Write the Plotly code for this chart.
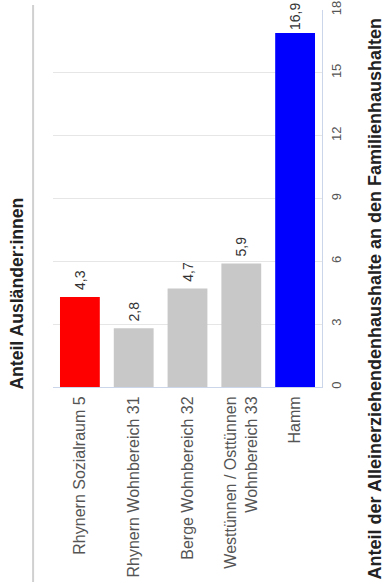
import plotly.graph_objects as go

categories = ["Rhynern Sozialraum 5", "Rhynern Wohnbereich 31", "Berge Wohnbereich 32",
              "Westtünnen / Osttünnen<br>Wohnbereich 33", "Hamm"]
values = [4.3, 2.8, 4.7, 5.9, 16.9]
bar_colors = ["#ff0000", "#c8c8c8", "#c8c8c8", "#c8c8c8", "#0000ff"]
tick_vals = [0, 3, 6, 9, 12, 15, 18]
title_left = "Anteil Ausländer:innen"
title_right = "Anteil der Alleinerziehendenhaushalte an den Familienhaushalten"

FONT = "Liberation Sans, Arial, sans-serif"

fig = go.Figure(go.Bar(
    x=categories, y=values,
    marker=dict(color=bar_colors, line=dict(width=0)),
    texttemplate=["\u00a0%{y:.1f}"] * 4 + ["%{y:.1f}"],
    textposition="outside", textangle=-90,
    textfont=dict(family=FONT, size=14, color="#333333"),
    cliponaxis=False, width=0.74,
))

fig.update_layout(
    width=387, height=583,
    margin=dict(l=53, r=65, t=10, b=196, autoexpand=False),
    paper_bgcolor="white", plot_bgcolor="white",
    separators=",.",
    showlegend=False,
    font=dict(family=FONT, size=16, color="#555555"),
    xaxis=dict(
        tickangle=-90, showgrid=False, showline=True, linecolor="#ccd6eb", linewidth=1,
        ticks="", automargin=False, ticklabelstandoff=2,
        tickfont=dict(family=FONT, size=16, color="#555555"),
    ),
    yaxis=dict(
        side="right", range=[0, 18], tickvals=tick_vals, tickangle=-90,
        showgrid=True, gridcolor="#e6e6e6", showline=True, linecolor="#ccd6eb",
        zeroline=False, ticks="", ticklabelstandoff=2, automargin=False,
        tickfont=dict(family=FONT, size=13, color="#555555"),
    ),
    shapes=[dict(type="line", xref="paper", yref="paper",
                 x0=-0.074, x1=-0.074, y0=-0.517, y1=1.013,
                 line=dict(color="#d0d0d0", width=2))],
    annotations=[
        dict(text="<b>" + title_left + "</b>", textangle=-90, xref="paper", yref="paper",
             x=-0.132, y=0.249, xanchor="center", yanchor="middle", showarrow=False,
             font=dict(family=FONT, size=17.6, color="#222222")),
        dict(text="<b>" + title_right + "</b>", textangle=-90, xref="paper", yref="paper",
             x=1.197, y=0.235, xanchor="center", yanchor="middle", showarrow=False,
             font=dict(family=FONT, size=18, color="#222222")),
    ],
)

fig.write_html("out.html", config={"displayModeBar": False},
               post_script="document.body.style.margin='0';")
